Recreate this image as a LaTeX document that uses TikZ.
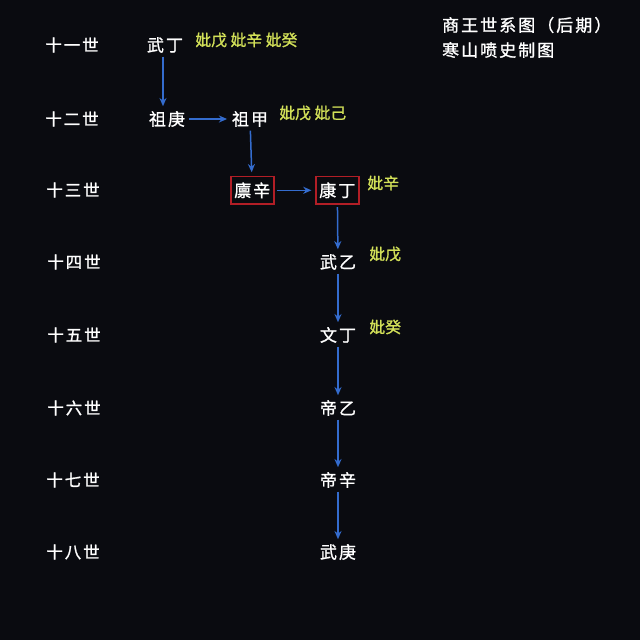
\documentclass[tikz,border=0pt]{standalone}
\usepackage{fontspec}
\setmainfont{Noto Sans CJK SC}
\newfontfamily\spaced[LetterSpace=12, FakeBold=1.2]{Noto Sans CJK SC}
\newfontfamily\heavy[FakeBold=1.2]{Noto Sans CJK SC}
\usetikzlibrary{arrows.meta}
\definecolor{bgcol}{RGB}{10,11,16}
\definecolor{consortcol}{RGB}{210,224,88}
\definecolor{arrowcol}{RGB}{52,108,206}
\definecolor{boxcol}{RGB}{178,30,38}
\tikzset{
	gen/.style = {text = white, font = \spaced\fontsize{14pt}{16pt}\selectfont, inner sep = 1pt},
	king/.style = {text = white, font = \spaced\fontsize{14.5pt}{16pt}\selectfont, inner sep = 1pt},
	heir/.style = {king, draw = boxcol, line width = 0.5mm, inner xsep = 3pt, inner ysep = 5pt},
	consort/.style = {text = consortcol, font = \heavy\fontsize{13.5pt}{15pt}\selectfont, inner sep = 1pt},
	descent/.style = {draw = arrowcol, line width = 0.45mm, -{Stealth[length = 7pt, width = 6pt]}, shorten > = 3pt, shorten < = 2pt}
}
\begin{document}
\begin{tikzpicture}[x = 0.03cm, y = -0.03cm]
	\fill [bgcol] (0, 0) rectangle (640, 640);
	\useasboundingbox (0, 0) rectangle (640, 640);

	% Titel
	\begin{scope}[anchor = west, text = white, font = \spaced\fontsize{14.5pt}{16pt}\selectfont]
		\node (title) at (438, 25) {商王世系图（后期）};
		\node (maker) at (438, 50) {寒山喷史制图};
	\end{scope}

	% Generationen
	\node [gen] (g11) at (72, 45) {十一世};
	\node [gen] (g12) at (72, 119) {十二世};
	\node [gen] (g13) at (73, 190) {十三世};
	\node [gen] (g14) at (74, 262) {十四世};
	\node [gen] (g15) at (74, 335) {十五世};
	\node [gen] (g16) at (74, 408) {十六世};
	\node [gen] (g17) at (73, 480) {十七世};
	\node [gen] (g18) at (73, 552) {十八世};

	% Koenige
	\node [king] (wuding) at (165, 45) {武丁};
	\node [king] (zugeng) at (167, 119) {祖庚};
	\node [king] (zujia) at (250, 119) {祖甲};
	\node [heir] (linxin) at (252.3, 190.3) {廪辛};
	\node [heir] (kangding) at (337.3, 190.3) {康丁};
	\node [king] (wuyi) at (338, 262) {武乙};
	\node [king] (wending) at (338, 335) {文丁};
	\node [king] (diyi) at (338, 408) {帝乙};
	\node [king] (dixin) at (338, 480) {帝辛};
	\node [king] (wugeng) at (338, 552) {武庚};

	% Gemahlinnen
	\node [consort, anchor = west] (c1) at (194, 40) {妣戊 妣辛 妣癸};
	\node [consort, anchor = west] (c2) at (278, 113) {妣戊 妣己};
	\node [consort, anchor = west] (c3) at (366, 183) {妣辛};
	\node [consort, anchor = west] (c4) at (368, 254) {妣戊};
	\node [consort, anchor = west] (c5) at (368, 327) {妣癸};

	% Erbfolge
	\draw [descent] (wuding.south -| 163, 0) -- (zugeng.north -| 163, 0);
	\draw [descent] (zugeng) -- (zujia);
	\draw [descent] (zujia) -- (linxin);
	\draw [descent] (linxin) -- (kangding);
	\foreach \a/\b in {kangding/wuyi, wuyi/wending, wending/diyi, diyi/dixin, dixin/wugeng} {
		\draw [descent] (\a) -- (\b);
	}
\end{tikzpicture}
\end{document}
